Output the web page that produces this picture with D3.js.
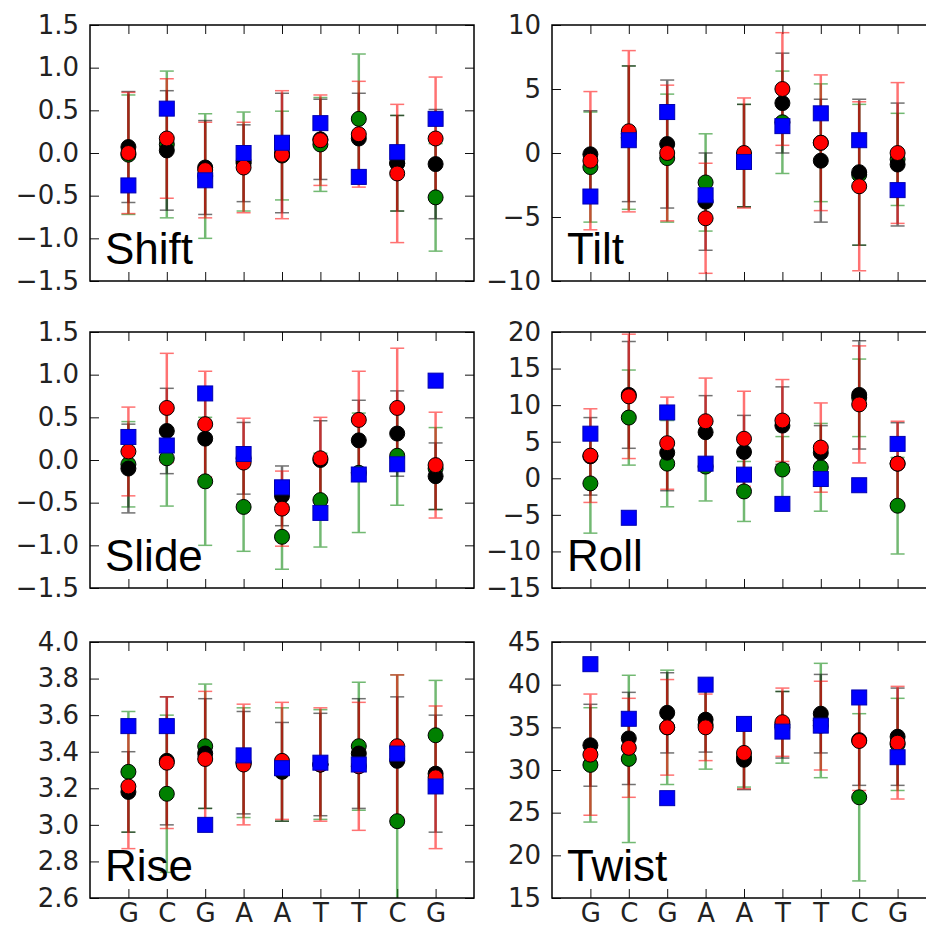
<!DOCTYPE html>
<html>
<head>
<meta charset="utf-8">
<script src="https://cdnjs.cloudflare.com/ajax/libs/d3/7.8.5/d3.min.js"></script>
<style>
  body { margin: 0; background: #fff; }
  svg { display: block; }
</style>
</head>
<body>
<div id="chart"></div>
<script>
// base sequence along the x axis
var bases = ["G", "C", "G", "A", "A", "T", "T", "C", "G"];

var params = ["Shift", "Tilt", "Slide", "Roll", "Rise", "Twist"];
var yRanges = [[-1.5, 1.5], [-10, 10], [-1.5, 1.5], [-15, 20], [2.6, 4.0], [15, 45]];
var yTickSteps = [0.5, 5, 0.5, 5, 0.2, 5];
var yTickFormats = [".1f", "d", ".1f", "d", ".1f", "d"];

// Shift
var shiftBlack = [0.07, 0.03, -0.17, -0.12, 0.0, 0.16, 0.17, -0.12, -0.13];
var shiftBlackSd = [0.65, 0.70, 0.55, 0.45, 0.70, 0.47, 0.53, 0.56, 0.64];
var shiftRed = [0.0, 0.17, -0.2, -0.17, -0.02, 0.15, 0.22, -0.24, 0.17];
var shiftRedSd = [0.71, 0.70, 0.56, 0.53, 0.75, 0.53, 0.62, 0.81, 0.72];
var shiftGreen = [-0.02, 0.1, -0.27, -0.1, -0.03, 0.1, 0.4, -0.12, -0.52];
var shiftGreenSd = [0.70, 0.86, 0.73, 0.58, 0.52, 0.55, 0.76, 0.56, 0.63];
var shiftBlue = [-0.38, 0.52, -0.32, 0.0, 0.12, 0.35, -0.28, 0.01, 0.40];

// Tilt
var tiltBlack = [-0.1, 1.5, 0.7, -3.8, -0.2, 3.9, -0.6, -1.5, -0.9];
var tiltBlackSd = [3.4, 5.3, 5.0, 3.8, 4.0, 3.9, 4.8, 5.7, 4.8];
var tiltRed = [-0.6, 1.7, 0.0, -5.1, 0.0, 5.0, 0.8, -2.6, 0.0];
var tiltRedSd = [5.4, 6.3, 5.3, 4.3, 4.3, 4.4, 5.3, 6.6, 5.5];
var tiltGreen = [-1.1, 1.2, -0.4, -2.3, -0.2, 2.4, 0.8, -1.7, -0.5];
var tiltGreenSd = [4.3, 5.6, 5.0, 3.8, 4.0, 4.0, 4.6, 5.5, 3.6];
var tiltBlue = [-3.4, 1.0, 3.2, -3.3, -0.7, 2.1, 3.1, 1.0, -2.9];

// Slide
var slideBlack = [-0.1, 0.34, 0.25, 0.02, -0.42, 0.0, 0.23, 0.31, -0.19];
var slideBlackSd = [0.52, 0.5, 0.5, 0.42, 0.35, 0.46, 0.47, 0.5, 0.39];
var slideRed = [0.1, 0.61, 0.42, -0.03, -0.57, 0.02, 0.47, 0.61, -0.06];
var slideRedSd = [0.52, 0.64, 0.62, 0.52, 0.44, 0.48, 0.57, 0.7, 0.62];
var slideGreen = [-0.05, 0.02, -0.25, -0.55, -0.9, -0.47, -0.15, 0.05, -0.1];
var slideGreenSd = [0.5, 0.56, 0.75, 0.52, 0.38, 0.55, 0.7, 0.58, 0.48];
var slideBlue = [0.27, 0.17, 0.78, 0.07, -0.32, -0.62, -0.17, -0.05, 0.93];

// Roll
var rollBlack = [3.0, 11.4, 3.5, 6.3, 3.6, 7.2, 3.5, 11.4, 2.0];
var rollBlackSd = [5.3, 7.3, 5.2, 5.0, 5.0, 5.3, 3.7, 7.4, 5.6];
var rollRed = [3.1, 11.2, 4.8, 7.8, 5.4, 7.9, 4.2, 10.1, 2.0];
var rollRedSd = [6.4, 8.5, 6.3, 5.9, 6.5, 5.6, 6.1, 8.0, 5.8];
var rollGreen = [-0.7, 8.3, 2.0, 1.6, -1.8, 1.2, 1.5, 11.0, -3.75];
var rollGreenSd = [6.8, 6.5, 5.9, 4.7, 4.1, 4.5, 6.0, 5.3, 6.6];
var rollBlue = [6.1, -5.4, 9.0, 2.0, 0.5, -3.5, -0.1, -0.95, 4.7];

// Rise
var riseBlack = [3.18, 3.35, 3.39, 3.34, 3.29, 3.33, 3.39, 3.35, 3.28];
var riseBlackSd = [0.22, 0.35, 0.3, 0.28, 0.27, 0.28, 0.3, 0.35, 0.32];
var riseRed = [3.21, 3.34, 3.36, 3.33, 3.35, 3.33, 3.32, 3.43, 3.26];
var riseRedSd = [0.34, 0.36, 0.37, 0.33, 0.32, 0.31, 0.35, 0.39, 0.39];
var riseGreen = [3.29, 3.17, 3.43, 3.34, 3.33, 3.33, 3.43, 3.02, 3.49];
var riseGreenSd = [0.33, 0.43, 0.34, 0.3, 0.31, 0.3, 0.35, 0.8, 0.3];
var riseBlue = [3.54, 3.54, 3.0, 3.38, 3.31, 3.34, 3.33, 3.39, 3.21];

// Twist
var twistBlack = [32.9, 33.7, 36.7, 35.9, 31.2, 35.3, 36.6, 33.5, 33.9];
var twistBlackSd = [4.8, 5.4, 4.7, 3.8, 3.5, 3.9, 4.6, 5.3, 5.7];
var twistRed = [31.8, 32.6, 35.0, 35.0, 32.0, 35.6, 35.2, 33.4, 33.2];
var twistRedSd = [7.1, 5.8, 5.6, 3.9, 4.2, 4.0, 5.2, 5.8, 6.6];
var twistGreen = [30.6, 31.3, 35.0, 35.3, 31.5, 35.0, 35.8, 26.8, 33.0];
var twistGreenSd = [6.7, 9.8, 6.7, 5.2, 3.5, 4.2, 6.7, 9.8, 5.4];
var twistBlue = [42.4, 36.0, 26.7, 40.0, 35.4, 34.5, 35.2, 38.5, 31.5];

// table of the series per panel, built from the arrays above
var panelSeries = [
  {black: shiftBlack, blackSd: shiftBlackSd, red: shiftRed, redSd: shiftRedSd, green: shiftGreen, greenSd: shiftGreenSd, blue: shiftBlue},
  {black: tiltBlack, blackSd: tiltBlackSd, red: tiltRed, redSd: tiltRedSd, green: tiltGreen, greenSd: tiltGreenSd, blue: tiltBlue},
  {black: slideBlack, blackSd: slideBlackSd, red: slideRed, redSd: slideRedSd, green: slideGreen, greenSd: slideGreenSd, blue: slideBlue},
  {black: rollBlack, blackSd: rollBlackSd, red: rollRed, redSd: rollRedSd, green: rollGreen, greenSd: rollGreenSd, blue: rollBlue},
  {black: riseBlack, blackSd: riseBlackSd, red: riseRed, redSd: riseRedSd, green: riseGreen, greenSd: riseGreenSd, blue: riseBlue},
  {black: twistBlack, blackSd: twistBlackSd, red: twistRed, redSd: twistRedSd, green: twistGreen, greenSd: twistGreenSd, blue: twistBlue}
];

var colours = {black: "#000000", red: "#ff0000", green: "#008000", blue: "#0000ff"};

var W = 926, H = 928;
var colX = [90, 552];
var rowY = [25, 332, 642];
var pw = 384, ph = 256;
var tickLen = 9;

var svg = d3.select("#chart")
  .append("svg")
  .attr("width", W)
  .attr("height", H);

params.forEach(function(name, p) {
  var col = p % 2, row = Math.floor(p / 2);
  var series = panelSeries[p];
  var dom = yRanges[p];

  var x = d3.scaleLinear().domain([-1, bases.length]).range([0, pw]);
  var y = d3.scaleLinear().domain(dom).range([ph, 0]);
  var yTicks = d3.range(0, Math.round((dom[1] - dom[0]) / yTickSteps[p]) + 1)
    .map(function(i) { return dom[0] + i * yTickSteps[p]; });

  var g = svg.append("g")
    .attr("transform", "translate(" + colX[col] + "," + rowY[row] + ")");

  g.append("clipPath")
    .attr("id", "clip" + p)
    .append("rect")
    .attr("width", pw)
    .attr("height", ph);

  // axes, ticks pointing inwards on all four sides
  var fmt = d3.format(yTickFormats[p]);
  var left = g.append("g")
    .call(d3.axisLeft(y).tickValues(yTicks).tickFormat(fmt).tickSize(-tickLen).tickPadding(11));
  left.selectAll("text")
    .style("font-family", "DejaVu Sans")
    .style("font-size", "26px")
    .attr("fill", "#222");

  g.append("g")
    .attr("transform", "translate(" + pw + ",0)")
    .call(d3.axisRight(y).tickValues(yTicks).tickFormat("").tickSize(-tickLen));

  g.append("g")
    .call(d3.axisTop(x).tickValues(d3.range(bases.length)).tickFormat("").tickSize(-tickLen));

  var bottom = g.append("g")
    .attr("transform", "translate(0," + ph + ")")
    .call(d3.axisBottom(x).tickValues(d3.range(bases.length))
      .tickFormat(function(i) { return row == 2 ? bases[i] : ""; })
      .tickSize(-tickLen).tickPadding(6));
  bottom.selectAll("text")
    .style("font-family", "DejaVu Sans")
    .style("font-size", "26px")
    .attr("fill", "#222");

  g.selectAll(".domain").remove();
  g.selectAll(".tick line").attr("stroke", "#111").attr("stroke-width", 1);

  var plot = g.append("g").attr("clip-path", "url(#clip" + p + ")");

  // error bars first (green, black, red), markers on top
  ["green", "black", "red"].forEach(function(s) {
    var bars = plot.selectAll(".bar-" + s)
      .data(series[s])
      .enter()
      .append("g")
      .attr("class", "bar-" + s)
      .attr("stroke", colours[s])
      .attr("opacity", 0.55);
    bars.append("line")
      .attr("x1", function(d, i) { return x(i); })
      .attr("x2", function(d, i) { return x(i); })
      .attr("y1", function(d, i) { return y(d - series[s + "Sd"][i]); })
      .attr("y2", function(d, i) { return y(d + series[s + "Sd"][i]); })
      .attr("stroke-width", 2.5);
    [-1, 1].forEach(function(sign) {
      bars.append("line")
        .attr("x1", function(d, i) { return x(i) - 7; })
        .attr("x2", function(d, i) { return x(i) + 7; })
        .attr("y1", function(d, i) { return y(d + sign * series[s + "Sd"][i]); })
        .attr("y2", function(d, i) { return y(d + sign * series[s + "Sd"][i]); })
        .attr("stroke-width", 1.5);
    });
  });

  ["green", "black", "red"].forEach(function(s) {
    plot.selectAll(".dot-" + s)
      .data(series[s])
      .enter()
      .append("circle")
      .attr("class", "dot-" + s)
      .attr("cx", function(d, i) { return x(i); })
      .attr("cy", function(d) { return y(d); })
      .attr("r", 7.5)
      .attr("fill", colours[s])
      .attr("stroke", "#000")
      .attr("stroke-width", 1);
  });

  plot.selectAll(".sq")
    .data(series.blue)
    .enter()
    .append("rect")
    .attr("class", "sq")
    .attr("x", function(d, i) { return x(i) - 7.5; })
    .attr("y", function(d) { return y(d) - 7.5; })
    .attr("width", 15)
    .attr("height", 15)
    .attr("fill", colours.blue)
    .attr("stroke", "#0000b0")
    .attr("stroke-width", 1);

  // frame
  g.append("rect")
    .attr("width", pw)
    .attr("height", ph)
    .attr("fill", "none")
    .attr("stroke", "#000")
    .attr("stroke-width", 1.5);

  // panel name in the lower left corner
  g.append("text")
    .text(name)
    .attr("x", 15)
    .attr("y", ph - 17)
    .style("font-family", "Liberation Sans")
    .style("font-size", "44px")
    .attr("fill", "#000");
});
</script>
</body>
</html>
